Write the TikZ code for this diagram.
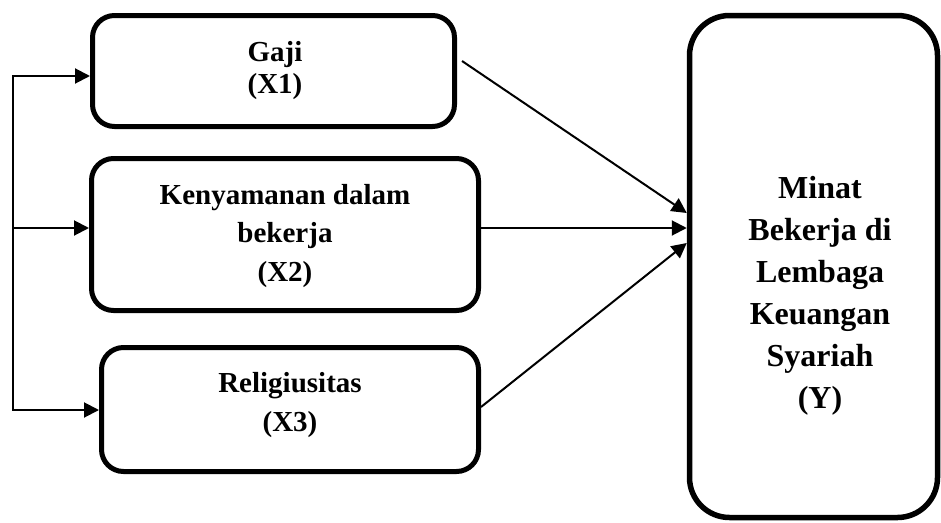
\documentclass[tikz,border=0pt]{standalone}
\usepackage{fontspec}
\setmainfont{Liberation Serif}
\usetikzlibrary{arrows.meta}
\begin{document}
\begin{tikzpicture}[x=1pt,y=-1pt,
  box/.style={draw, line width=5pt, rounded corners=22pt, inner sep=0pt, outer sep=0pt},
  lbl/.style={align=center, inner sep=0pt},
  arr/.style={line width=2pt, -{Triangle[length=15pt,width=15pt]}},
  link/.style={line width=2pt}]
\useasboundingbox (0,0) rectangle (941,522);
% boxes
\node[box, minimum width=362pt, minimum height=111pt] (x1) at (273.5,71) {};
\node[box, minimum width=387pt, minimum height=152pt] (x2) at (285,234.5) {};
\node[box, minimum width=377pt, minimum height=124pt] (x3) at (290,409.5) {};
\node[box, line width=5.5pt, rounded corners=40pt, minimum width=248pt, minimum height=502pt] (y) at (813.5,266.5) {};
% labels
\node[lbl, font=\bfseries\fontsize{29}{32}\selectfont] (t1) at (275,71) {Gaji\\(X1)};
\node[lbl, font=\bfseries\fontsize{29}{38.5}\selectfont] (t2) at (285,236) {Kenyamanan dalam\\bekerja\\(X2)};
\node[lbl, font=\bfseries\fontsize{29}{39}\selectfont] (t3) at (290,405) {Religiusitas\\(X3)};
\node[lbl, font=\bfseries\fontsize{32}{42}\selectfont] (ty) at (820,295.5) {Minat\\Bekerja di\\Lembaga\\Keuangan\\Syariah\\(Y)};
% left bracket
\coordinate (btop) at (13,76);
\coordinate (bmid) at (13,228);
\coordinate (bbot) at (13,410);
\draw[link, line cap=rect] (btop) -- (bbot);
\draw[arr] (btop) -- ([xshift=-2.5pt,yshift=-5pt]x1.west);
\draw[arr] (bmid) -- ([xshift=-2.5pt,yshift=6.5pt]x2.west);
\draw[arr] (bbot) -- ([xshift=-2.5pt,yshift=-0.5pt]x3.west);
% arrows to Y
\draw[arr] ([xshift=7.5pt,yshift=10pt]x1.east) -- ([xshift=-2.75pt,yshift=53.5pt]y.west);
\draw[arr] ([xshift=2.5pt,yshift=6.5pt]x2.east) -- ([xshift=-2.75pt,yshift=38.5pt]y.west);
\draw[arr] ([xshift=2.5pt,yshift=2.5pt]x3.east) -- ([xshift=-2.75pt,yshift=23.5pt]y.west);
\end{tikzpicture}
\end{document}
